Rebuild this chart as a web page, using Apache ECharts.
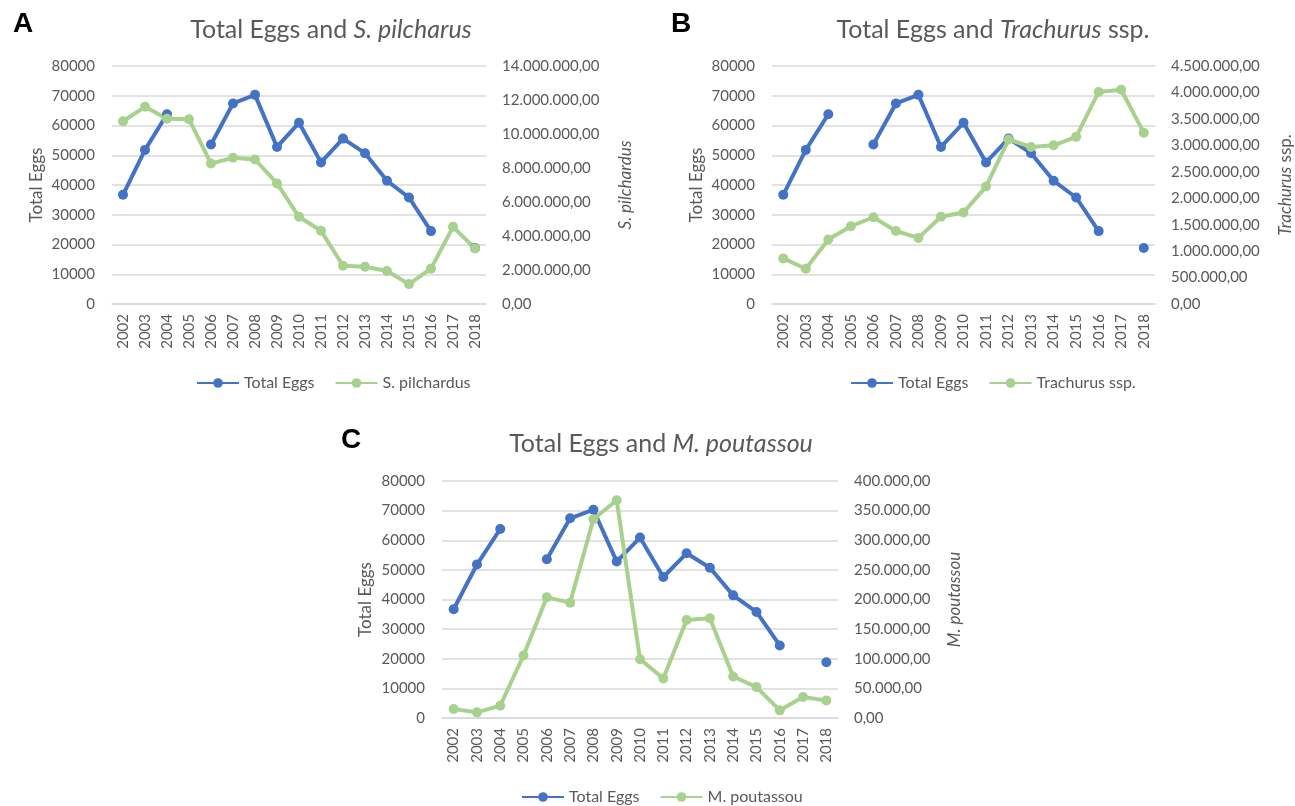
<!DOCTYPE html>
<html>
<head>
<meta charset="utf-8">
<script src="https://cdn.jsdelivr.net/npm/echarts@6/dist/echarts.min.js"></script>
<style>
html,body{margin:0;padding:0;background:#fff;}
#chart{width:1295px;height:806px;}
</style>
</head>
<body>
<div id="chart"></div>
<script>
const years = ['2002','2003','2004','2005','2006','2007','2008','2009','2010','2011','2012','2013','2014','2015','2016','2017','2018'];
const totalEggs = [36700, 51800, 63800, null, 53600, 67400, 70300, 52800, 60900, 47600, 55600, 50700, 41400, 35800, 24500, null, 18800];
const pilchardus = [10750000, 11600000, 10900000, 10870000, 8260000, 8600000, 8500000, 7090000, 5130000, 4310000, 2250000, 2190000, 1940000, 1170000, 2080000, 4540000, 3270000];
const trachurus = [862000, 667000, 1220000, 1470000, 1640000, 1380000, 1250000, 1650000, 1730000, 2220000, 3110000, 2970000, 3000000, 3160000, 4010000, 4050000, 3240000];
const poutassou = [15100, 9500, 20800, 105500, 203600, 194700, 335500, 367500, 99300, 66800, 165500, 168300, 70100, 52200, 12900, 35300, 29700];

const BLUE = '#4472C4', GREEN = '#A9D18E', TXT = '#595959', GRID = '#D9D9D9';
const FONT = 'Lato, "Open Sans", sans-serif';

function fmt(v){
  const s = v.toFixed(2).split('.');
  return s[0].replace(/\B(?=(\d{3})+(?!\d))/g, '.') + ',' + s[1];
}

const grids = [
  {left: 112, top: 66, width: 374, height: 238},
  {left: 772, top: 66, width: 385, height: 238},
  {left: 442, top: 481, width: 396, height: 237}
];

function xAx(i){
  return {
    type: 'category', gridIndex: i, data: years, boundaryGap: true,
    axisLine: {show: true, lineStyle: {color: GRID, width: 1.5}},
    axisTick: {show: false},
    axisLabel: {rotate: 90, color: TXT, fontSize: 15, fontFamily: FONT, margin: 10, interval: 0}
  };
}
function yLeft(i, gap){
  return {
    type: 'value', gridIndex: i, position: 'left', min: 0, max: 80000, interval: 10000,
    name: 'Total Eggs', nameLocation: 'middle', nameGap: gap, nameRotate: 90,
    nameTextStyle: {color: TXT, fontSize: 17, fontFamily: FONT},
    axisLine: {show: false}, axisTick: {show: false},
    axisLabel: {color: TXT, fontSize: 15, fontFamily: FONT, margin: 17, formatter: v => String(v)},
    splitLine: {show: true, lineStyle: {color: GRID, width: 1.5}}
  };
}
function yRight(i, max, interval, name, gap){
  return {
    type: 'value', gridIndex: i, position: 'right', min: 0, max: max, interval: interval,
    name: name, nameLocation: 'middle', nameGap: gap, nameRotate: 90,
    nameTextStyle: {color: TXT, fontSize: 17, fontFamily: FONT, rich: {
      i: {fontStyle: 'italic', color: TXT, fontSize: 17, fontFamily: FONT},
      n: {color: TXT, fontSize: 17, fontFamily: FONT}
    }},
    axisLine: {show: false}, axisTick: {show: false},
    axisLabel: {color: TXT, fontSize: 15, fontFamily: FONT, margin: 16, formatter: fmt},
    splitLine: {show: false}
  };
}

function lineSeries(name, data, xi, yi, color){
  return {
    type: 'line', name: name, data: data, xAxisIndex: xi, yAxisIndex: yi,
    symbol: 'circle', symbolSize: 10, showSymbol: true, connectNulls: false,
    lineStyle: {color: color, width: 4}, itemStyle: {color: color},
    emphasis: {disabled: true}, animation: false
  };
}

const titleRich = {
  n: {color: TXT, fontSize: 25, fontFamily: FONT, fontWeight: 'normal'},
  i: {color: TXT, fontSize: 25, fontFamily: FONT, fontStyle: 'italic', fontWeight: 'normal'}
};
function panelTitle(text, x, y){
  return {text: text, left: x, top: y, textAlign: 'center', textStyle: {fontWeight: 'normal', rich: titleRich}};
}
function letter(t, x, y){
  return {text: t, left: x, top: y, textStyle: {color: '#000', fontSize: 28, fontWeight: 'bold', fontFamily: '"Liberation Sans", Arial, sans-serif'}};
}
function legend(names, x, y){
  return {
    data: names, left: x, top: y, itemWidth: 42, itemHeight: 12, itemGap: 20,
    textStyle: {color: TXT, fontSize: 16, fontFamily: FONT}, selectedMode: false
  };
}

const option = {
  animation: false,
  backgroundColor: '#fff',
  title: [
    letter('A', 8, 5), letter('B', 666, 5), letter('C', 336, 421),
    panelTitle('{n|Total Eggs and }{i|S. pilcharus}', 326, 12),
    panelTitle('{n|Total Eggs and }{i|Trachurus}{n| ssp.}', 988, 12),
    panelTitle('{n|Total Eggs and }{i|M. poutassou}', 656, 426)
  ],
  legend: [
    legend(['Total Eggs', 'S. pilchardus'], 191, 370),
    legend(['Total Eggs', 'Trachurus ssp.'], 845, 370),
    legend(['Total Eggs', 'M. poutassou'], 516, 784)
  ],
  grid: grids,
  xAxis: [xAx(0), xAx(1), xAx(2)],
  yAxis: [
    yLeft(0, 67),
    yRight(0, 14000000, 2000000, '{i|S. pilchardus}', 131),
    yLeft(1, 67),
    yRight(1, 4500000, 500000, '{i|Trachurus}{n| ssp.}', 122),
    yLeft(2, 68),
    yRight(2, 400000, 50000, '{i|M. poutassou}', 108)
  ],
  series: [
    lineSeries('Total Eggs', totalEggs, 0, 0, BLUE),
    lineSeries('S. pilchardus', pilchardus, 0, 1, GREEN),
    lineSeries('Total Eggs', totalEggs, 1, 2, BLUE),
    lineSeries('Trachurus ssp.', trachurus, 1, 3, GREEN),
    lineSeries('Total Eggs', totalEggs, 2, 4, BLUE),
    lineSeries('M. poutassou', poutassou, 2, 5, GREEN)
  ]
};

const chart = echarts.init(document.getElementById('chart'), null, {renderer: 'canvas'});
chart.setOption(option);
</script>
</body>
</html>
